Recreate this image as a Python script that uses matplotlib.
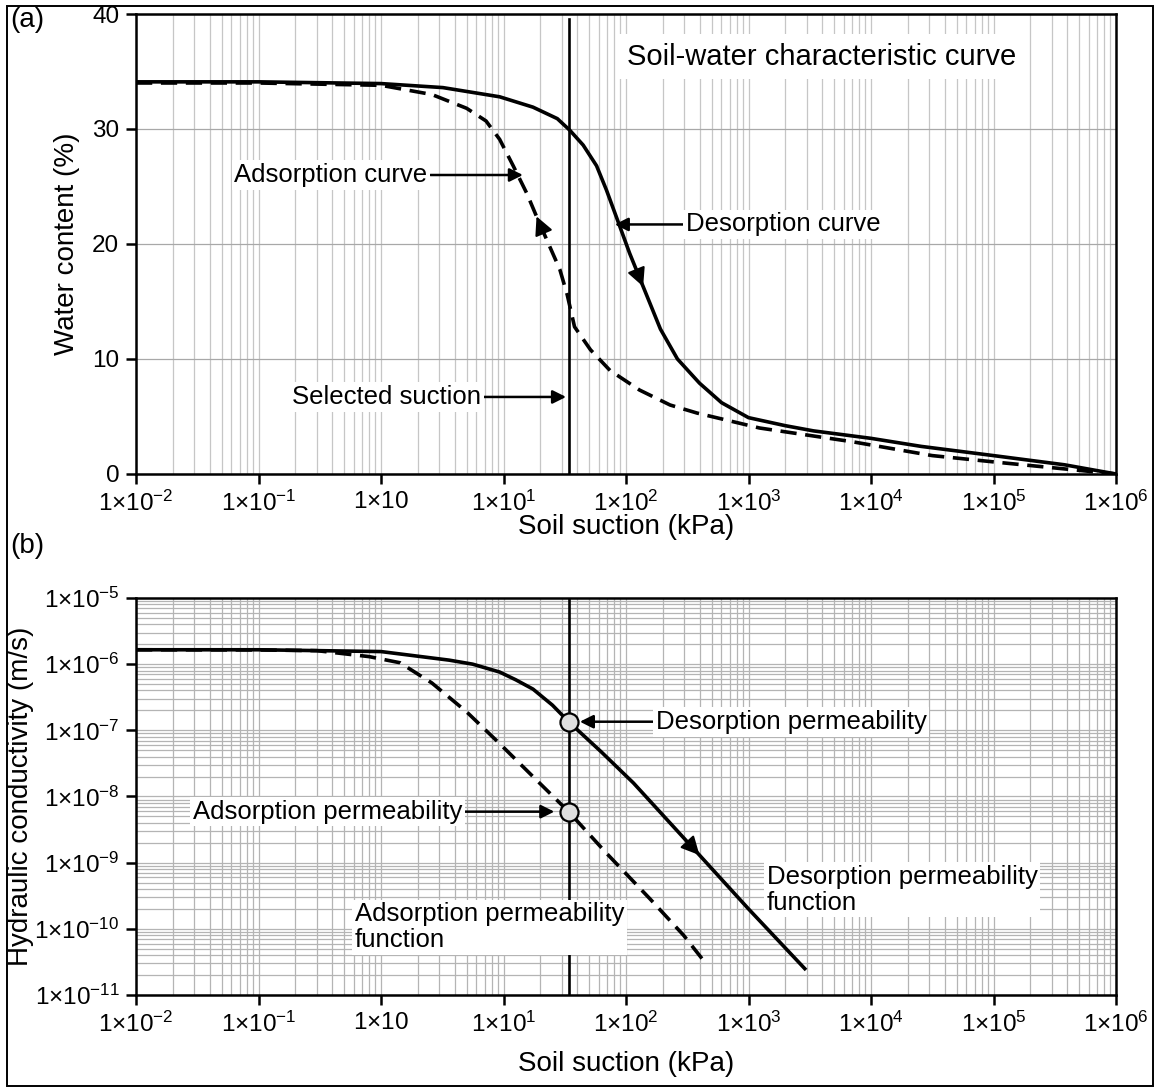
### courbe de retention et fonction de permeabilite (sol)

import matplotlib.pyplot as plt
import numpy as np
from matplotlib.ticker import LogLocator, NullFormatter
from matplotlib.patches import Rectangle

plt.rcParams['font.family'] = 'Liberation Sans'
plt.rcParams['mathtext.fontset'] = 'custom'
plt.rcParams['mathtext.rm'] = 'Liberation Sans'
plt.rcParams['mathtext.it'] = 'Liberation Sans:italic'
plt.rcParams['mathtext.bf'] = 'Liberation Sans:bold'
plt.rcParams['mathtext.default'] = 'regular'

### DONNEES
## (a) teneur en eau (%) en fonction de la succion (kPa)
succion_des_a = [0.01, 0.1, 1, 3.2, 9.3, 17.4, 27.5, 34.7, 44.7, 57.5, 69.2, 85.1,
                 107, 138, 191, 263, 398, 603, 1000, 2000, 3390, 10000, 25700,
                 1e5, 3.8e5, 1e6]
teneur_des = [34.1, 34.1, 33.95, 33.6, 32.8, 31.9, 30.9, 29.9, 28.6, 26.8, 24.7, 22.1,
              19.2, 16.3, 12.6, 10.0, 7.9, 6.2, 4.9, 4.2, 3.75, 3.1, 2.4,
              1.6, 0.8, 0.0]

succion_ads_a = [0.01, 0.1, 1, 2.6, 5.0, 7.2, 9.3, 12.0, 15.5, 18.6, 22.9, 28.8, 33.1,
                 38.0, 51.3, 74.1, 129, 229, 380, 1230, 7080, 31600, 112000, 1e6]
teneur_ads = [34.0, 34.0, 33.8, 33.0, 31.8, 30.7, 29.1, 26.8, 24.4, 22.4, 20.2, 17.8, 15.6,
              12.8, 10.8, 9.0, 7.3, 6.0, 5.3, 4.0, 2.8, 1.6, 1.0, 0.0]

## (b) conductivite hydraulique (m/s) en fonction de la succion (kPa)
succion_des_b = [0.01, 0.1, 1, 3.6, 5.6, 9.3, 12.6, 17.4, 25.1, 34, 63, 115, 398, 1000, 2880]
k_des = [1.65e-6, 1.65e-6, 1.55e-6, 1.15e-6, 1.0e-6, 7.6e-7, 5.8e-7, 4.2e-7, 2.4e-7,
         1.35e-7, 4.7e-8, 1.6e-8, 1.3e-9, 2.0e-10, 2.5e-11]

succion_ads_b = [0.01, 0.1, 0.3, 0.8, 1.43, 2.6, 5.0, 9.3, 17.4, 34, 69, 158, 295, 436]
k_ads = [1.65e-6, 1.64e-6, 1.6e-6, 1.3e-6, 1.05e-6, 5.2e-7, 1.9e-7, 6.3e-8, 2.0e-8,
         5.9e-9, 1.4e-9, 2.8e-10, 8e-11, 3.2e-11]

succion_choisie = 34  # kPa
k_choisis = [k_des[succion_des_b.index(succion_choisie)],
             k_ads[succion_ads_b.index(succion_choisie)]]

## axes
x_ticks = [1e-2, 1e-1, 1, 1e1, 1e2, 1e3, 1e4, 1e5, 1e6]
x_labels = ['$1×10^{-2}$', '$1×10^{-1}$', '$1×10$', '$1×10^{1}$', '$1×10^{2}$',
            '$1×10^{3}$', '$1×10^{4}$', '$1×10^{5}$', '$1×10^{6}$']
ya_ticks = [0, 10, 20, 30, 40]
yb_ticks = [1e-11, 1e-10, 1e-9, 1e-8, 1e-7, 1e-6, 1e-5]
yb_labels = ['$1×10^{-11}$', '$1×10^{-10}$', '$1×10^{-9}$', '$1×10^{-8}$',
             '$1×10^{-7}$', '$1×10^{-6}$', '$1×10^{-5}$']

### STYLE
lw_courbe = 2.6
tirets = (4.5, 2.4)
fs_ticks = 17.5
fs_label = 20
fs_note = 18.5
boite = dict(facecolor='white', edgecolor='none', pad=2)
fleche = dict(arrowstyle='-|>', color='black', lw=1.8, mutation_scale=20,
              shrinkA=0, shrinkB=0)


def habiller(ax):
    for s in ax.spines.values():
        s.set_linewidth(1.8)
    ax.set_xscale('log')
    ax.set_xlim(1e-2, 1e6)
    ax.set_xticks(x_ticks, x_labels)
    ax.xaxis.set_minor_locator(LogLocator(base=10, subs=np.arange(2, 10), numticks=100))
    ax.xaxis.set_minor_formatter(NullFormatter())
    ax.tick_params(which='major', direction='out', length=7, width=1.8,
                   labelsize=fs_ticks, pad=5)
    ax.tick_params(which='minor', length=0)
    ax.set_axisbelow(True)


def fleche_sur_courbe(ax, x, y, i, sens):
    # petite tete de fleche posee sur la courbe, orientee selon la tangente
    p0 = ax.transData.transform((x[i - 1], y[i - 1]))
    p1 = ax.transData.transform((x[i + 1], y[i + 1]))
    d = (p1 - p0) / np.hypot(*(p1 - p0)) * sens
    L = 16
    ax.annotate('', xy=(x[i], y[i]), xytext=(-d[0] * L, -d[1] * L),
                textcoords='offset pixels',
                arrowprops=dict(arrowstyle='-|>', color='black', lw=1.5,
                                mutation_scale=28, shrinkA=0, shrinkB=0),
                zorder=6)


fig = plt.figure(figsize=(11.56, 10.87), dpi=100)
ax1 = fig.add_axes([0.11765, 0.56394, 0.84775, 0.42318])
ax2 = fig.add_axes([0.11765, 0.08464, 0.84775, 0.36523])

### (a) courbe caracteristique sol-eau
habiller(ax1)
ax1.set_ylim(0, 40)
ax1.set_yticks(ya_ticks)
ax1.grid(which='both', axis='x', color='#c6c6c6', lw=0.9)
ax1.grid(which='major', axis='y', color='#a8a8a8', lw=0.9)
ax1.axvline(succion_choisie, ymax=0.99, color='black', lw=1.9, zorder=3)
ax1.plot(succion_des_a, teneur_des, color='black', lw=lw_courbe, zorder=4)
ax1.plot(succion_ads_a, teneur_ads, color='black', lw=lw_courbe, dashes=tirets, zorder=4)
ax1.set_xlabel('Soil suction (kPa)', fontsize=fs_label)
ax1.set_ylabel('Water content (%)', fontsize=fs_label)
ax1.xaxis.set_label_coords(0.5, -0.088)
ax1.yaxis.set_label_coords(-0.057, 0.5)

ax1.text(3980, 36.3, 'Soil-water characteristic curve', fontsize=21, ha='center',
         va='center', bbox=dict(facecolor='white', edgecolor='none', pad=6), zorder=5)
ax1.annotate('Adsorption curve', xy=(14.4, 26.0), xytext=(2.4, 26.0),
             fontsize=fs_note, ha='right', va='center', bbox=boite,
             arrowprops=fleche, zorder=5)
ax1.annotate('Desorption curve', xy=(81, 21.7), xytext=(310, 21.7),
             fontsize=fs_note, ha='left', va='center', bbox=boite,
             arrowprops=fleche, zorder=5)
ax1.annotate('Selected suction', xy=(32.4, 6.7), xytext=(6.6, 6.7),
             fontsize=fs_note, ha='right', va='center', bbox=boite,
             arrowprops=fleche, zorder=5)

### (b) fonction de permeabilite
habiller(ax2)
ax2.set_yscale('log')
ax2.set_ylim(1e-11, 1e-5)
ax2.set_yticks(yb_ticks, yb_labels)
ax2.yaxis.set_minor_locator(LogLocator(base=10, subs=np.arange(2, 10), numticks=100))
ax2.yaxis.set_minor_formatter(NullFormatter())
ax2.tick_params(which='minor', length=0)
ax2.grid(which='both', color='#b4b4b4', lw=0.9)
ax2.axvline(succion_choisie, color='black', lw=1.9, zorder=3)
ax2.plot(succion_des_b, k_des, color='black', lw=lw_courbe, zorder=4)
ax2.plot(succion_ads_b, k_ads, color='black', lw=lw_courbe, dashes=tirets, zorder=4)
ax2.plot([succion_choisie] * 2, k_choisis, 'o', ms=13, mfc='#dedede', mec='black',
         mew=1.6, zorder=6)
ax2.set_xlabel('Soil suction (kPa)', fontsize=fs_label)
ax2.set_ylabel('Hydraulic conductivity (m/s)', fontsize=fs_label)
ax2.xaxis.set_label_coords(0.5, -0.142)
ax2.yaxis.set_label_coords(-0.104, 0.5)

ax2.annotate('Desorption permeability', xy=(42, k_choisis[0]), xytext=(175, k_choisis[0]),
             fontsize=fs_note, ha='left', va='center', bbox=boite,
             arrowprops=fleche, zorder=5)
ax2.annotate('Adsorption permeability', xy=(26, k_choisis[1]), xytext=(4.6, k_choisis[1]),
             fontsize=fs_note, ha='right', va='center', bbox=boite,
             arrowprops=fleche, zorder=5)
ax2.text(1410, 3.9e-10, 'Desorption permeability\nfunction', fontsize=fs_note,
         ha='left', va='center', linespacing=1.1, bbox=boite, zorder=5)
ax2.text(0.61, 1.05e-10, 'Adsorption permeability\nfunction', fontsize=fs_note,
         ha='left', va='center', linespacing=1.1, bbox=boite, zorder=5)

## fleches de sens de parcours sur les courbes
fleche_sur_courbe(ax1, succion_des_a, teneur_des, succion_des_a.index(138), +1)
fleche_sur_courbe(ax1, succion_ads_a, teneur_ads, succion_ads_a.index(18.6), -1)
fleche_sur_courbe(ax2, succion_des_b, k_des, succion_des_b.index(398), +1)

## reperes et cadre
fig.text(0.009, 0.982, '(a)', fontsize=fs_label, va='center')
fig.text(0.009, 0.498, '(b)', fontsize=fs_label, va='center')
fig.patches.append(Rectangle((0.006, 0.0012), 0.991, 0.993, transform=fig.transFigure,
                             fill=False, edgecolor='black', lw=1.4))

fig.savefig('out.png', dpi=100)
